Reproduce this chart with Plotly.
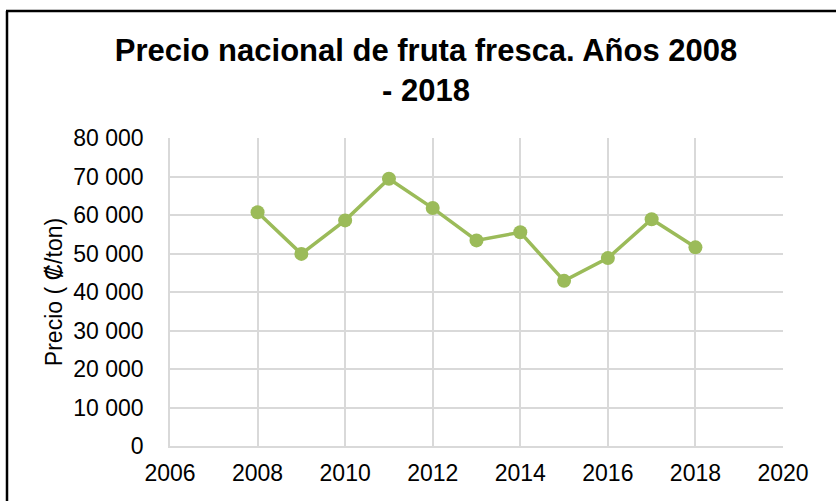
import plotly.graph_objects as go

years = [2008, 2009, 2010, 2011, 2012, 2013, 2014, 2015, 2016, 2017, 2018]
precio = [60700, 49900, 58600, 69400, 61800, 53400, 55500, 42900, 48800, 58900, 51600]
y_ticks = [0, 10000, 20000, 30000, 40000, 50000, 60000, 70000, 80000]
y_tick_labels = ["0", "10 000", "20 000", "30 000", "40 000", "50 000", "60 000", "70 000", "80 000"]
x_ticks = [2006, 2008, 2010, 2012, 2014, 2016, 2018, 2020]

W, H = 836, 501
ml, mr, mt, mb = 170, 53, 138, 55
pw, ph = W - ml - mr, H - mt - mb

def px_to_paper_x(px):
    return (px - ml) / pw

def py_to_paper_y(py):
    return (H - mb - py) / ph

fig = go.Figure()
fig.add_trace(go.Scatter(
    x=years, y=precio, mode="lines+markers",
    line=dict(color="#9bbb59", width=3.5),
    marker=dict(color="#9bbb59", size=14),
    showlegend=False,
))

font_family = "Liberation Sans, Arial, sans-serif"
fig.update_layout(
    width=W, height=H,
    margin=dict(l=ml, r=mr, t=mt, b=mb),
    paper_bgcolor="white", plot_bgcolor="white",
    font=dict(family=font_family, color="black", size=23),
    title=dict(
        text="<b>Precio nacional de fruta fresca. Años 2008<br>- 2018</b>",
        x=426 / W, xanchor="center", xref="container",
        y=(H - 61) / H, yanchor="top",
        font=dict(size=31, family=font_family, color="black"),
    ),
    xaxis=dict(
        range=[2006, 2020], tickvals=x_ticks, ticktext=[str(v) for v in x_ticks],
        showgrid=True, gridcolor="#d9d9d9", gridwidth=1.5,
        showline=True, linecolor="#d9d9d9", linewidth=1.5,
        zeroline=False, ticks="outside", ticklen=6, tickcolor="rgba(0,0,0,0)",
        tickfont=dict(size=23, family=font_family, color="black"),
    ),
    yaxis=dict(
        range=[0, 80000], tickvals=y_ticks, ticktext=y_tick_labels,
        showgrid=True, gridcolor="#d9d9d9", gridwidth=1.5,
        showline=True, linecolor="#d9d9d9", linewidth=1.5, mirror=False,
        zeroline=False, ticks="outside", ticklen=20, tickcolor="rgba(0,0,0,0)",
        tickfont=dict(size=23, family=font_family, color="black"),
        title=dict(text="Precio ( ₡/ton)", standoff=4,
                   font=dict(size=23, family=font_family, color="black")),
    ),
    shapes=[
        dict(type="line", xref="paper", yref="paper",
             x0=px_to_paper_x(7), x1=px_to_paper_x(7),
             y0=py_to_paper_y(11), y1=py_to_paper_y(H + 5),
             line=dict(color="black", width=2.5)),
        dict(type="line", xref="paper", yref="paper",
             x0=px_to_paper_x(6), x1=px_to_paper_x(W + 5),
             y0=py_to_paper_y(11), y1=py_to_paper_y(11),
             line=dict(color="black", width=2.5)),
    ],
)

fig.write_html(
    "out.html",
    config={"displayModeBar": False},
    post_script="document.body.style.margin='0';document.body.style.padding='0';",
)
